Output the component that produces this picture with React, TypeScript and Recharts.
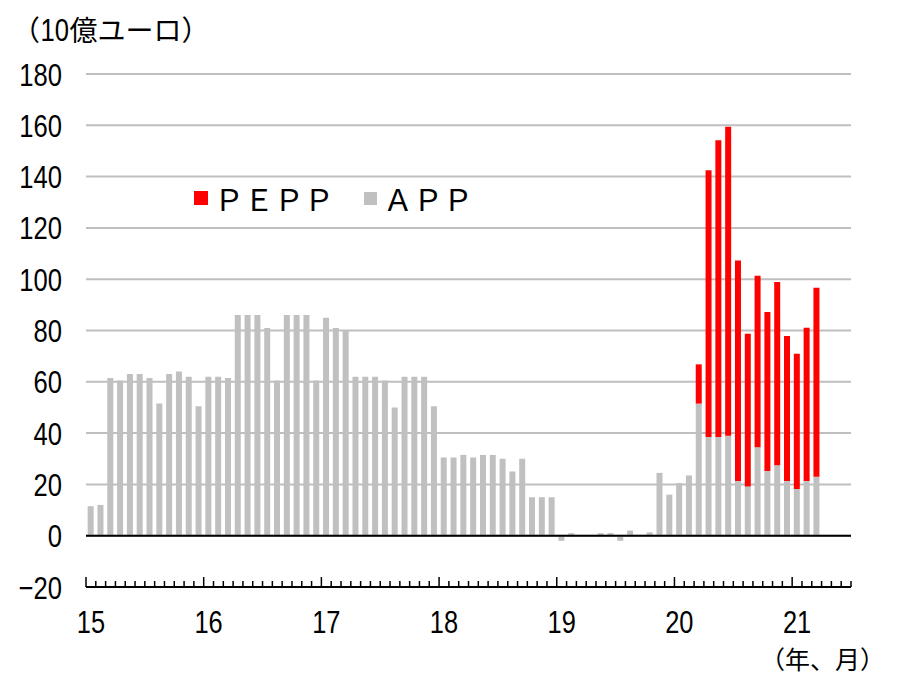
import React from 'react';
import { BarChart, Bar, XAxis, YAxis, CartesianGrid, ReferenceLine } from 'recharts';

const app2015 = [11.5, 12, 61.5, 60.5, 63, 63, 61.5, 51.5, 63, 64, 62, 50.5];
const app2016 = [62, 62, 61.5, 86, 86, 86, 81, 60.5, 86, 86, 86, 60.5];
const app2017 = [85, 81, 80, 62, 62, 62, 60.5, 50, 62, 62, 62, 50.5];
const app2018 = [30.5, 30.5, 31.5, 30.5, 31.5, 31.5, 30, 25, 30, 15, 15, 15];
const app2019 = [-2, 1, 0, 0, 1, 1, -2, 2, 0, 1.3, 24.5, 16];
const app2020 = [20.5, 23.5, 51.5, 38.5, 38.5, 39, 21.3, 19.2, 34.5, 25.2, 27.5, 21.3];
const app2021 = [18.2, 21.3, 23];

// PEPP starts 2020-03
const pepp = [15.3, 104, 115.7, 120.4, 86, 59.5, 66.8, 62, 71.4, 56.6, 52.7, 59.8, 73.7];
const peppStart = 62;

const years = [15, 16, 17, 18, 19, 20, 21];
const monthsShown = 78; // 2015-01 .. 2021-06
const yTicks = [-20, 0, 20, 40, 60, 80, 100, 120, 140, 160, 180];

const appAll = [...app2015, ...app2016, ...app2017, ...app2018, ...app2019, ...app2020, ...app2021];

const data = Array.from({ length: monthsShown }, (_, i) => ({
    month: `${years[Math.floor(i / 12)]}-${(i % 12) + 1}`,
    app: i < appAll.length ? appAll[i] : null,
    pepp: i >= peppStart && i - peppStart < pepp.length ? pepp[i - peppStart] : null,
}));

const NUM_FONT = "'Liberation Sans', Arial, sans-serif";
const JP_FONT = "'Noto Sans CJK JP', sans-serif";
const SQUEEZE = 0.8;

const W = 899;
const H = 677;
const X_AXIS_H = 90;
const M = { top: 74, right: 48, bottom: 0, left: 0 };
const Y_AXIS_W = 86;
const BAND = (W - M.right - Y_AXIS_W) / monthsShown;

const XTick = ({ x, y, index }: any) => {
    const left = x - BAND / 2;
    const isYear = index % 12 === 0;
    return (
        <g>
            <line x1={left} x2={left} y1={y} y2={y - (isYear ? 10 : 6)} stroke="#000" strokeWidth={1.5} />
            {index === monthsShown - 1 && (
                <line x1={x + BAND / 2} x2={x + BAND / 2} y1={y} y2={y - 6} stroke="#000" strokeWidth={1.5} />
            )}
            {isYear && (
                <text
                    transform={`translate(${x},${y + 46}) scale(0.82,1)`}
                    textAnchor="middle"
                    fontSize={31}
                    fontFamily={NUM_FONT}
                    fill="#000"
                >
                    {years[index / 12]}
                </text>
            )}
        </g>
    );
};

const YTick = ({ y, payload }: any) => (
    <text
        transform={`translate(62,${y + 11.5}) scale(${SQUEEZE},1)`}
        textAnchor="end"
        fontSize={32}
        fontFamily={NUM_FONT}
        fill="#000"
    >
        {payload.value < 0 ? `\u2212${Math.abs(payload.value)}` : payload.value}
    </text>
);

const App: React.FC = () => {
    return (
        <div style={{ position: 'absolute', left: 0, top: 0, width: W, height: H, background: '#fff' }}>
            <div style={{ position: 'absolute', left: 12, top: 9, fontFamily: JP_FONT, fontSize: 28, color: '#000', whiteSpace: 'nowrap' }}>
                （
                <span style={{ display: 'inline-block', fontFamily: NUM_FONT, fontSize: 32, transform: `scaleX(${SQUEEZE})`, margin: '0 -3px' }}>10</span>
                億ユーロ）
            </div>
            <div
                style={{
                    position: 'absolute',
                    left: 760,
                    top: 646,
                    fontFamily: JP_FONT,
                    fontSize: 25,
                    lineHeight: 1,
                    color: '#000',
                    whiteSpace: 'nowrap',
                }}
            >
                （年、月）
            </div>
            <div
                style={{
                    position: 'absolute',
                    left: 194,
                    top: 183,
                    display: 'flex',
                    alignItems: 'center',
                    fontFamily: JP_FONT,
                    fontSize: 30,
                    color: '#000',
                    lineHeight: 1,
                    zIndex: 2,
                }}
            >
                <span style={{ width: 14, height: 14, background: '#ff0000', display: 'inline-block', marginRight: 6 }} />
                <span>ＰＥＰＰ</span>
                <span style={{ width: 13, height: 13, background: '#c0c0c0', display: 'inline-block', marginLeft: 30, marginRight: 6 }} />
                <span>ＡＰＰ</span>
            </div>
            <BarChart width={W} height={H} data={data} margin={M} barCategoryGap="17%">
                <CartesianGrid vertical={false} stroke="#bfbfbf" strokeWidth={2} />
                <XAxis
                    dataKey="month"
                    interval={0}
                    tickSize={0}
                    tickMargin={0}
                    tickLine={false}
                    axisLine={{ stroke: '#000', strokeWidth: 2 }}
                    tick={<XTick />}
                    height={X_AXIS_H}
                />
                <YAxis
                    width={Y_AXIS_W}
                    domain={[-20, 180]}
                    ticks={yTicks}
                    interval={0}
                    axisLine={false}
                    tickLine={false}
                    tick={<YTick />}
                />
                <Bar dataKey="app" stackId="a" fill="#c0c0c0" isAnimationActive={false} />
                <Bar dataKey="pepp" stackId="a" fill="#ff0000" isAnimationActive={false} />
                <ReferenceLine y={0} stroke="#000" strokeWidth={2} />
            </BarChart>
        </div>
    );
};

export default App;
